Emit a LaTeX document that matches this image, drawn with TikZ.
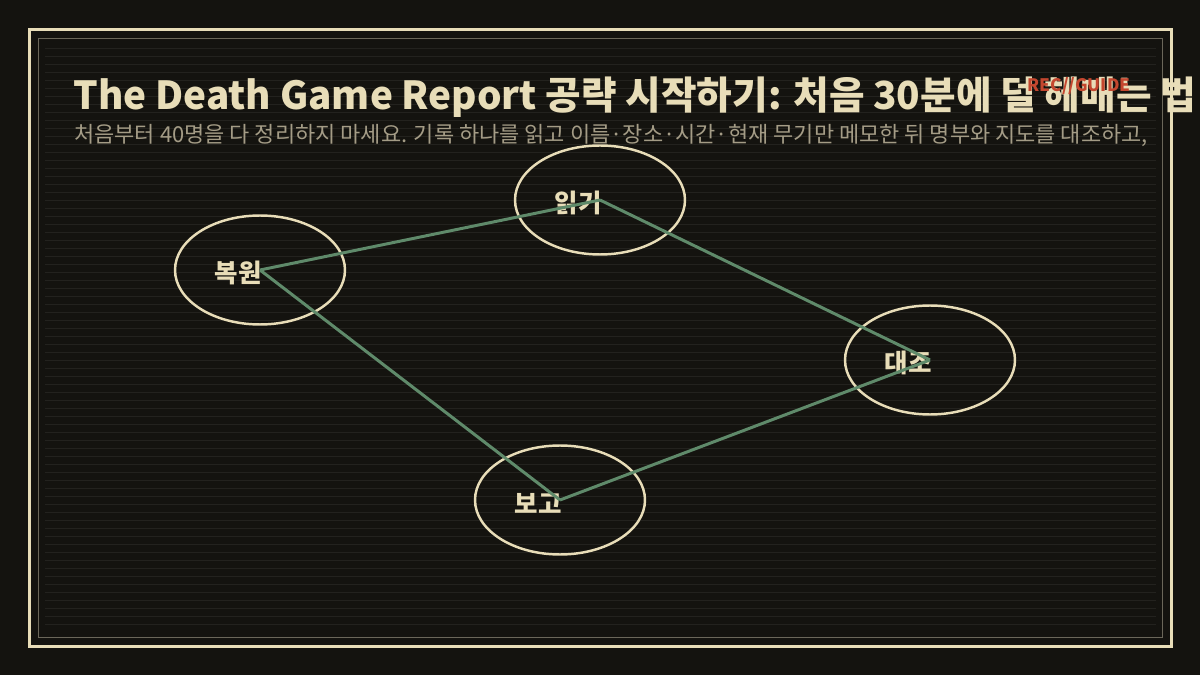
\documentclass[tikz,border=0pt]{standalone}
\usepackage{fontspec}
\setmainfont{Noto Sans CJK KR}
\usetikzlibrary{shapes.geometric}
\definecolor{bgdark}{HTML}{14130F}
\definecolor{cream}{HTML}{E8DDB8}
\definecolor{dimline}{HTML}{6B675A}
\definecolor{scan}{HTML}{23221E}
\definecolor{subgrey}{HTML}{A49C86}
\definecolor{moss}{HTML}{5F8A6A}
\definecolor{recred}{HTML}{C4472F}

\begin{document}
\begin{tikzpicture}[x=0.02cm,y=-0.02cm,main node/.style={ellipse, draw=cream, line width=1.4pt, minimum width=3.4cm, minimum height=2.18cm, inner sep=0pt},tag/.style={anchor=east, text=cream, font=\bfseries\fontsize{14.5}{17}\selectfont, inner sep=0pt}]
			% Background and frame
			\fill[bgdark] (0,0) rectangle (1200,675);
			\useasboundingbox (0,0) rectangle (1200,675);
			\foreach \k in {0,...,72}
			\draw[scan, line width=0.55pt] (45,48.3+8*\k) -- (1156,48.3+8*\k);
			\draw[cream, line width=1.7pt] (29.5,29.5) rectangle (1171.5,646.5);
			\draw[dimline, line width=0.6pt] (38.3,38.3) rectangle (1162.7,637.3);
			
			% Heading
			\node[anchor=base west, inner sep=0pt, text=cream, font=\bfseries\fontsize{22}{26}\selectfont] (title) at (73,110) {The Death Game Report 공략 시작하기: 처음 30분에 덜 헤매는 법};
			\node[anchor=base west, inner sep=0pt, text=subgrey, font=\fontsize{12.5}{15}\selectfont] (sub) at (74,143) {처음부터 40명을 다 정리하지 마세요. 기록 하나를 읽고 이름·장소·시간·현재 무기만 메모한 뒤 명부와 지도를 대조하고,};
			\node[anchor=center, inner sep=0pt, text=recred, font=\bfseries\fontsize{9.8}{12}\selectfont] (rec) at (1079,86) {REC//GUIDE};
			
			% Nodes
			\node[main node] (1) at (260,270) {};
			\node[main node] (2) at (600,200) {};
			\node[main node] (3) at (930,360) {};
			\node[main node] (4) at (560,500) {};
			
			\node[tag] (t1) at (262,273) {복원};
			\node[tag] (t2) at (602,203) {읽기};
			\node[tag] (t3) at (932,363) {대조};
			\node[tag] (t4) at (562,503) {보고};
			
			\path[moss, line width=1.7pt]
			(1.center) edge (2.center)
			(2.center) edge (3.center)
			(3.center) edge (4.center)
			(4.center) edge (1.center);
			
		\end{tikzpicture}
\end{document}
